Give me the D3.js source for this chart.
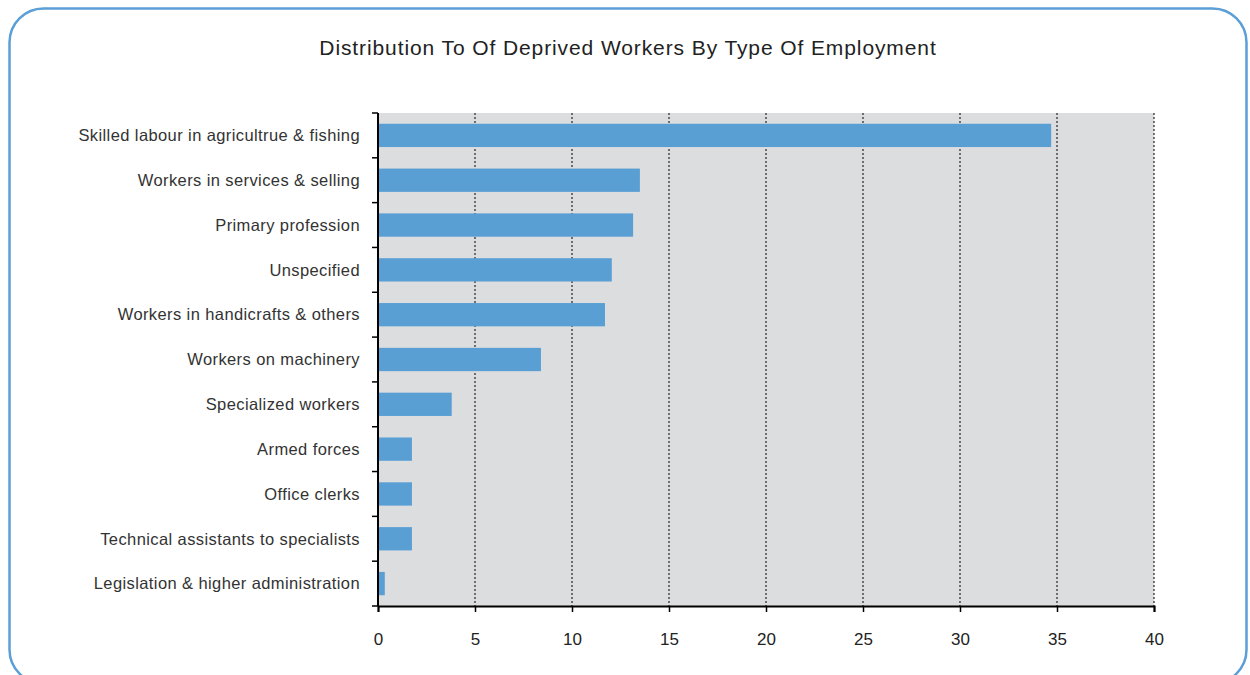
<!DOCTYPE html>
<html>
<head>
<meta charset="utf-8">
<script src="https://cdn.jsdelivr.net/npm/d3@7"></script>
<style>
  html, body { margin: 0; padding: 0; background: #ffffff; }
  svg { display: block; font-family: "Liberation Sans", Arial, sans-serif; }
</style>
</head>
<body>
<svg id="chart" width="1250" height="675"></svg>
<script>
const categories = [
  "Skilled labour in agricultrue & fishing",
  "Workers in services & selling",
  "Primary profession",
  "Unspecified",
  "Workers in handicrafts & others",
  "Workers on machinery",
  "Specialized workers",
  "Armed forces",
  "Office clerks",
  "Technical assistants to specialists",
  "Legislation & higher administration"
];
const values = [34.7, 13.5, 13.15, 12.05, 11.7, 8.4, 3.8, 1.75, 1.75, 1.75, 0.35];
const xTicks = [0, 5, 10, 15, 20, 25, 30, 35, 40];
const title = "Distribution To Of Deprived Workers By Type Of Employment";

const svg = d3.select("#chart");
const W = 1250, H = 675;
const margin = { left: 378, right: 96, top: 113, bottom: 69 };
const plotW = W - margin.left - margin.right;
const plotH = H - margin.top - margin.bottom;

// border
svg.append("rect")
  .attr("x", 9.5).attr("y", 8.5)
  .attr("width", 1237).attr("height", 675)
  .attr("rx", 34).attr("ry", 34)
  .attr("fill", "none")
  .attr("stroke", "#5b9fd6")
  .attr("stroke-width", 2.5);

svg.append("text")
  .attr("x", 628).attr("y", 55)
  .attr("text-anchor", "middle")
  .attr("font-size", 21)
  .attr("letter-spacing", 0.9)
  .attr("fill", "#222")
  .text(title);

const g = svg.append("g").attr("transform", `translate(${margin.left},${margin.top})`);

const x = d3.scaleLinear().domain([0, 40]).range([0, plotW]);
const y = d3.scaleBand().domain(categories).range([0, plotH]).paddingInner(0.48).paddingOuter(0.24);

g.append("rect").attr("x", 0).attr("y", 0).attr("width", plotW).attr("height", plotH).attr("fill", "#dcdddf");

// grid
g.selectAll("line.grid").data(xTicks.filter(d => d > 0)).join("line")
  .attr("class", "grid")
  .attr("x1", d => x(d)).attr("x2", d => x(d))
  .attr("y1", 0).attr("y2", plotH)
  .attr("stroke", "#333").attr("stroke-width", 1.3)
  .attr("stroke-dasharray", "2,2");

// bars
g.selectAll("rect.bar").data(categories).join("rect")
  .attr("class", "bar")
  .attr("x", 0)
  .attr("y", d => y(d))
  .attr("width", (d, i) => x(values[i]))
  .attr("height", y.bandwidth())
  .attr("fill", "#5a9fd4");

// y axis
const yEdges = d3.range(categories.length + 1).map(i => i * plotH / categories.length);
g.append("line").attr("x1", 0).attr("x2", 0).attr("y1", 0).attr("y2", plotH)
  .attr("stroke", "#000").attr("stroke-width", 2);
g.selectAll("line.ytick").data(yEdges).join("line")
  .attr("class", "ytick")
  .attr("x1", -6).attr("x2", 0)
  .attr("y1", d => d).attr("y2", d => d)
  .attr("stroke", "#000").attr("stroke-width", 1.5);

g.selectAll("text.ylab").data(categories).join("text")
  .attr("class", "ylab")
  .attr("x", -18)
  .attr("y", d => y(d) + y.bandwidth() / 2)
  .attr("dy", "0.35em")
  .attr("text-anchor", "end")
  .attr("font-size", 16.5)
  .attr("letter-spacing", 0.4)
  .attr("fill", "#333")
  .text(d => d);

// x axis
const xAxis = d3.axisBottom(x).tickValues(xTicks).tickSize(6).tickPadding(21).tickFormat(d3.format("d"));
const xg = g.append("g").attr("transform", `translate(0,${plotH})`).call(xAxis);
xg.select(".domain").attr("stroke", "#000").attr("stroke-width", 2);
xg.selectAll(".tick line").attr("stroke", "#000").attr("stroke-width", 1.5);
xg.selectAll(".tick text").attr("font-size", 17).attr("fill", "#222").attr("font-family", "Liberation Sans, Arial, sans-serif");
</script>
</body>
</html>
